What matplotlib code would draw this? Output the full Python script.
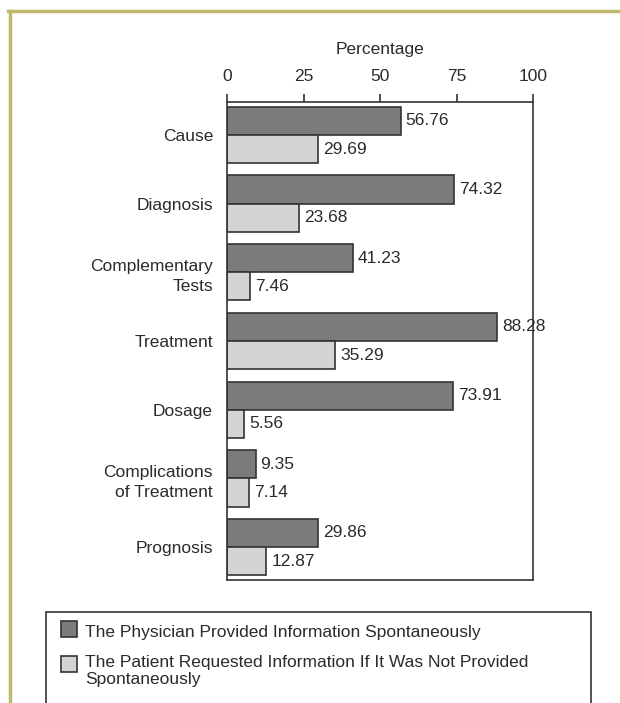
import numpy as np
import matplotlib.pyplot as plt
from matplotlib.patches import Rectangle
from matplotlib.lines import Line2D

plt.rcParams['font.family'] = ['Liberation Sans', 'DejaVu Sans']

categories = ["Cause", "Diagnosis", "Complementary\nTests", "Treatment",
              "Dosage", "Complications\nof Treatment", "Prognosis"]
physician = [56.76, 74.32, 41.23, 88.28, 73.91, 9.35, 29.86]
patient = [29.69, 23.68, 7.46, 35.29, 5.56, 7.14, 12.87]
xticks = [0, 25, 50, 75, 100]
labels = ["The Physician Provided Information Spontaneously",
          "The Patient Requested Information If It Was Not Provided\nSpontaneously"]

W, H = 620, 703
fs = 12.5
txt = '#2b2b2b'
fig = plt.figure(figsize=(6.2, 7.03), dpi=100)
ax = fig.add_axes([227 / W, 1 - 580 / H, (533 - 227) / W, (580 - 102) / H])

dark = '#7b7b7b'
light = '#d4d4d4'
edge = '#333333'
bh = 0.41
y = np.arange(len(categories))

b1 = ax.barh(y - bh / 2, physician, height=bh, color=dark, edgecolor=edge, linewidth=1.2)
b2 = ax.barh(y + bh / 2, patient, height=bh, color=light, edgecolor=edge, linewidth=1.2)

for bars, vals in [(b1, physician), (b2, patient)]:
    for rect, v in zip(bars, vals):
        ax.text(v + 1.6, rect.get_y() + rect.get_height() / 2, f"{v:.2f}",
                va='center', ha='left', fontsize=fs, color=txt)

ax.set_xlim(0, 100)
ax.set_ylim(len(categories) - 0.52, -0.48)
ax.set_xticks(xticks)
ax.set_yticks(y)
ax.set_yticklabels(categories, fontsize=fs, color=txt, linespacing=1.4)
ax.xaxis.tick_top()
ax.xaxis.set_label_position('top')
ax.set_xlabel("Percentage", fontsize=fs, color=txt, labelpad=10.5)
ax.tick_params(axis='x', length=6, width=1.2, color=edge, labelsize=fs,
               labelcolor=txt, pad=7)
ax.tick_params(axis='y', length=0, pad=10)
for s in ax.spines.values():
    s.set_color(edge)
    s.set_linewidth(1.2)

# olive page border (top and left only)
border = '#c2b86c'
fig.add_artist(Line2D([8 / W, 1], [1 - 11 / H, 1 - 11 / H], transform=fig.transFigure,
                      color=border, lw=2.5))
fig.add_artist(Line2D([10 / W, 10 / W], [0, 1 - 11 / H], transform=fig.transFigure,
                      color=border, lw=2.5))

# legend box, open at the bottom of the page
fig.add_artist(Rectangle((46 / W, -0.05), (591 - 46) / W, 1 - 612 / H + 0.05,
                         transform=fig.transFigure, fill=False, ec=edge, lw=1.2))
handle_tops = [621, 656]
first_baselines = [637, 667]
for bars, lab, top, base in zip([b1, b2], labels, handle_tops, first_baselines):
    fig.add_artist(Rectangle((61 / W, 1 - (top + 16) / H), 16 / W, 16 / H,
                             transform=fig.transFigure, fc=bars[0].get_facecolor(),
                             ec=edge, lw=1.2))
    for k, line in enumerate(lab.split("\n")):
        fig.text(85 / W, 1 - (base + 17 * k) / H, line, fontsize=fs, color=txt,
                 va='baseline', ha='left')

fig.savefig('out.png', dpi=100)
